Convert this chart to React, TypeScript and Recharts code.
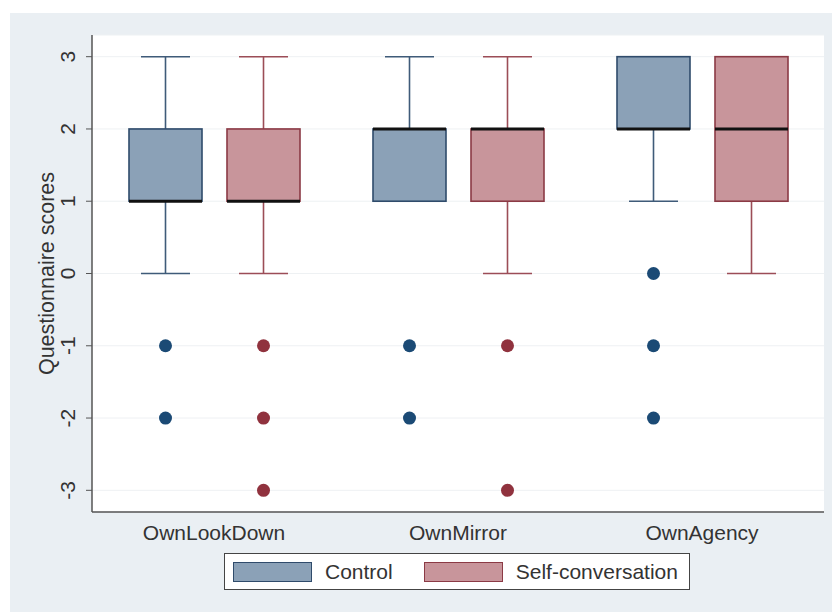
import React from 'react';
import { ComposedChart, Bar, XAxis, YAxis, CartesianGrid, Label } from 'recharts';

const categories = ['OwnLookDown', 'OwnMirror', 'OwnAgency'];

// Control group box statistics
const controlMin = [0, 1, 1];
const controlQ1 = [1, 1, 2];
const controlMedian = [1, 2, 2];
const controlQ3 = [2, 2, 3];
const controlMax = [3, 3, 3];
const controlOutliers = [[-1, -2], [-1, -2], [0, -1, -2]];

// Self-conversation group box statistics
const selfMin = [0, 0, 0];
const selfQ1 = [1, 1, 1];
const selfMedian = [1, 2, 2];
const selfQ3 = [2, 2, 3];
const selfMax = [3, 3, 3];
const selfOutliers = [[-1, -2, -3], [-1, -3], []];

const yTicks = [-3, -2, -1, 0, 1, 2, 3];

const FONT = '"Liberation Sans", Arial, sans-serif';

const STYLES = {
  control: { fill: '#8ba1b7', stroke: '#2f4b6b', whisker: '#3f5b79', dot: '#1b4a75' },
  self: { fill: '#c8959b', stroke: '#8b3a45', whisker: '#9c4d57', dot: '#90323e' },
};

const data = categories.map((name, i) => ({
  name,
  control: [controlQ1[i], controlQ3[i]],
  controlStats: { min: controlMin[i], q1: controlQ1[i], med: controlMedian[i], q3: controlQ3[i], max: controlMax[i], out: controlOutliers[i] },
  self: [selfQ1[i], selfQ3[i]],
  selfStats: { min: selfMin[i], q1: selfQ1[i], med: selfMedian[i], q3: selfQ3[i], max: selfMax[i], out: selfOutliers[i] },
}));

// Box-and-whisker drawn around the [q1, q3] bar the library lays out
const makeBoxShape = (group: 'control' | 'self') => (props: any) => {
  const { x, y, width, height, payload } = props;
  const s = payload[`${group}Stats`];
  const c = STYLES[group];
  const top = Math.min(y, y + height);
  const h = Math.abs(height);
  const unit = h / (s.q3 - s.q1);
  const py = (v: number) => top + (s.q3 - v) * unit;
  const cx = x + width / 2;
  const cap = 49;
  return (
    <g>
      <line x1={cx} x2={cx} y1={py(s.max)} y2={py(s.q3)} stroke={c.whisker} strokeWidth={1.6} />
      <line x1={cx} x2={cx} y1={py(s.q1)} y2={py(s.min)} stroke={c.whisker} strokeWidth={1.6} />
      <line x1={cx - cap / 2} x2={cx + cap / 2} y1={py(s.max)} y2={py(s.max)} stroke={c.whisker} strokeWidth={1.6} />
      <line x1={cx - cap / 2} x2={cx + cap / 2} y1={py(s.min)} y2={py(s.min)} stroke={c.whisker} strokeWidth={1.6} />
      <rect x={x} y={top} width={width} height={h} fill={c.fill} stroke={c.stroke} strokeWidth={1.6} />
      <line x1={x} x2={x + width} y1={py(s.med)} y2={py(s.med)} stroke="#111" strokeWidth={3} />
      {s.out.map((v: number, k: number) => (
        <circle key={k} cx={cx} cy={py(v)} r={6.5} fill={c.dot} />
      ))}
    </g>
  );
};

const YTick = (props: any) => {
  const { x, y, payload } = props;
  const tx = x - 9;
  return (
    <text x={tx} y={y} transform={`rotate(-90, ${tx}, ${y})`} textAnchor="middle" fill="#333" fontSize={21} fontFamily={FONT}>
      {payload.value}
    </text>
  );
};

const LegendItem = ({ label, group }: { label: string; group: 'control' | 'self' }) => (
  <div style={{ display: 'flex', alignItems: 'center' }}>
    <div style={{ width: 77, height: 18, background: STYLES[group].fill, border: `1.5px solid ${STYLES[group].stroke}` }} />
    <span style={{ marginLeft: 13, fontSize: 21, color: '#333' }}>{label}</span>
  </div>
);

export default function App() {
  return (
    <div style={{ position: 'absolute', left: 0, top: 0, width: 832, height: 612, background: '#fff', fontFamily: FONT }}>
      <div style={{ position: 'absolute', left: 10, top: 13, right: 0, bottom: 0, background: '#eaeff3' }} />
      <div style={{ position: 'absolute', left: 0, top: 0 }}>
        <ComposedChart width={832} height={612} data={data} margin={{ top: 35, right: 8, bottom: 70, left: 32 }} barSize={73} barGap={25}>
          <CartesianGrid horizontal vertical={false} stroke="#eef1f3" fill="#fff" />
          <XAxis
            dataKey="name"
            height={30}
            tickLine={false}
            axisLine={{ stroke: '#555', strokeWidth: 1.5 }}
            tick={{ fill: '#333', fontSize: 21, fontFamily: FONT }}
            tickMargin={7}
          />
          <YAxis
            width={60}
            type="number"
            domain={[-3.3, 3.3]}
            ticks={yTicks}
            interval={0}
            tickSize={6}
            tickLine={{ stroke: '#555' }}
            axisLine={{ stroke: '#555', strokeWidth: 1.5 }}
            tick={<YTick />}
          >
            <Label
              content={({ viewBox }: any) => {
                const ly = viewBox.y + viewBox.height / 2;
                return (
                  <text x={54} y={ly} transform={`rotate(-90, 54, ${ly})`} textAnchor="middle" fill="#333" fontSize={21.5} fontFamily={FONT}>
                    Questionnaire scores
                  </text>
                );
              }}
            />
          </YAxis>
          <Bar dataKey="control" shape={makeBoxShape('control')} isAnimationActive={false} />
          <Bar dataKey="self" shape={makeBoxShape('self')} isAnimationActive={false} />
        </ComposedChart>
      </div>
      <div
        style={{
          position: 'absolute',
          left: 224,
          top: 553,
          width: 466,
          height: 37,
          boxSizing: 'border-box',
          background: '#fff',
          border: '1.5px solid #444',
          display: 'flex',
          alignItems: 'center',
          paddingLeft: 8,
          gap: 31,
        }}
      >
        <LegendItem label="Control" group="control" />
        <LegendItem label="Self-conversation" group="self" />
      </div>
    </div>
  );
}
